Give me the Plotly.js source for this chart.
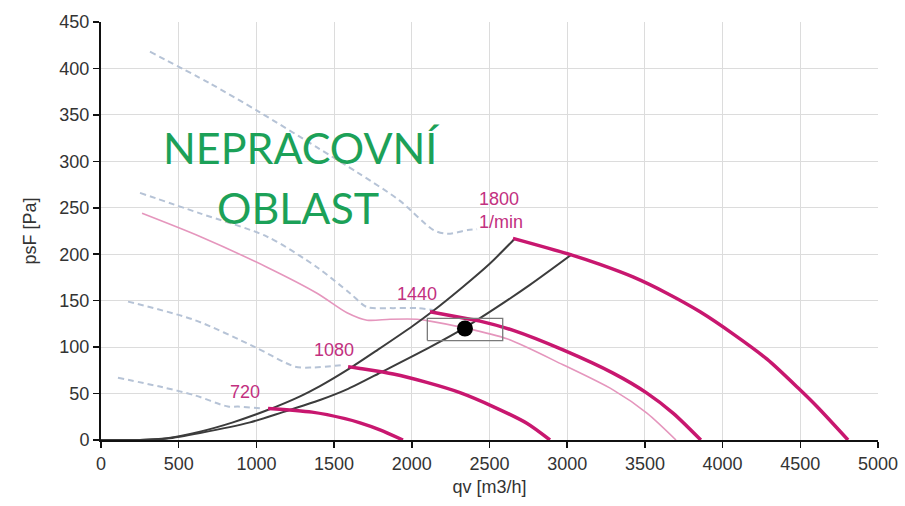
<!DOCTYPE html>
<html>
<head>
<meta charset="utf-8">
<script src="https://cdn.plot.ly/plotly-3.0.1.min.js"></script>
<style>
  html, body { margin: 0; padding: 0; background: #ffffff; }
  #chart { width: 905px; height: 506px; }
</style>
</head>
<body>
<div id="chart"></div>
<script>
// Fan characteristic: static pressure psF [Pa] against air flow qv [m3/h]

// Dashed limit curves (upper edge of the usable region per speed)
const limit1800Q = [315, 700, 1020, 1390, 1650, 1920, 2140, 2230, 2360, 2420];
const limit1800P = [418, 384, 353, 315, 288, 258, 226, 222, 226, 227];
const limit1440Q = [251, 637, 1068, 1390, 1602, 1712, 1860, 2033, 2137];
const limit1440P = [266, 244, 219, 186, 158, 143, 142, 142, 140];
const limit1080Q = [174, 605, 991, 1248, 1358, 1570];
const limit1080P = [149, 129, 100, 79, 78, 81];
const limit720Q = [109, 392, 605, 817, 882, 1036];
const limit720P = [67, 57, 48, 36, 36, 34];

// Thin pink curve (reduced-speed characteristic)
const thinQ = [264, 637, 1068, 1390, 1583, 1712, 1860, 2033, 2117, 2330, 2612, 2973, 3295, 3513, 3700];
const thinP = [244, 219, 186, 158, 137, 129, 130, 130, 128, 121, 109, 81, 54, 29, 0];

// System (duct) curves
const sysAQ = [0, 250, 425, 637, 849, 1068, 1281, 1409, 1590, 1780, 2008, 2130, 2330, 2503, 2664];
const sysAP = [0, 0, 2, 9, 19, 32, 47, 58, 76, 97, 123, 138, 165, 190, 217];
const sysBQ = [0, 250, 425, 637, 959, 1171, 1409, 1590, 1815, 2117, 2342, 2548, 2760, 3031];
const sysBP = [0, 0, 1.5, 7.5, 19, 30, 43, 55, 74, 100, 121, 143, 167, 200];

// Fan curves per speed [1/min]
const fan720Q = [1075, 1358, 1570, 1667, 1795, 1943];
const fan720P = [34, 30, 23, 18.5, 11, 0];
const fan1080Q = [1590, 1667, 1881, 2096, 2310, 2523, 2740, 2889];
const fan1080P = [79, 77, 71, 62, 51, 36, 18, 0];
const fan1440Q = [2117, 2375, 2439, 2653, 2973, 3295, 3513, 3681, 3860];
const fan1440P = [138, 130, 128, 118, 97, 72, 50.5, 29, 0];
const fan1800Q = [2651, 3031, 3211, 3423, 3641, 3855, 4069, 4286, 4498, 4607, 4807];
const fan1800P = [217, 199, 189, 175.5, 158, 138, 114, 87, 54, 36, 0];

// Operating point and its tolerance box
const dutyQ = [2342];
const dutyP = [120];
const boxQ = [2100, 2585, 2585, 2100, 2100];
const boxP = [107, 107, 131, 131, 107];

// Speed labels
const speedText = ['720', '1080', '1440', '1800<br>1/min'];
const speedQ = [817, 1358, 1892, 2420];
const speedP = [52, 97, 157, 247];

const tickFont = { family: 'Liberation Sans, Arial, sans-serif', size: 18, color: '#333333' };
const magenta = '#c8176f';
const dashCol = '#b6c3d6';

function line(x, y, color, width, dash) {
  return { type: 'scatter', mode: 'lines', x: x, y: y, hoverinfo: 'skip',
           line: { color: color, width: width, dash: dash || 'solid', shape: 'spline', smoothing: 0.8 } };
}

const traces = [
  line(limit1800Q, limit1800P, dashCol, 2, '6px,4px'),
  line(limit1440Q, limit1440P, dashCol, 2, '6px,4px'),
  line(limit1080Q, limit1080P, dashCol, 2, '6px,4px'),
  line(limit720Q, limit720P, dashCol, 2, '6px,4px'),
  line(thinQ, thinP, '#e596bd', 1.6),
  line(sysAQ, sysAP, '#3c3c3c', 2),
  line(sysBQ, sysBP, '#3c3c3c', 2),
  line(fan720Q, fan720P, magenta, 3.5),
  line(fan1080Q, fan1080P, magenta, 3.5),
  line(fan1440Q, fan1440P, magenta, 3.5),
  line(fan1800Q, fan1800P, magenta, 3.5),
  { type: 'scatter', mode: 'lines', x: boxQ, y: boxP, hoverinfo: 'skip',
    line: { color: '#7a7a7a', width: 1.3 } },
  { type: 'scatter', mode: 'markers', x: dutyQ, y: dutyP, hoverinfo: 'skip',
    marker: { color: '#000000', size: 16 } }
];

const annotations = speedText.map((t, i) => ({
  x: speedQ[i], y: speedP[i], xref: 'x', yref: 'y', text: t, showarrow: false,
  xanchor: 'left', align: 'left',
  font: { family: 'Liberation Sans, Arial, sans-serif', size: 18, color: '#c2307f' }
}));

annotations.push(
  { x: 1290, y: 315, xref: 'x', yref: 'y', text: 'NEPRACOVNÍ', showarrow: false,
    font: { family: 'Lato, sans-serif', size: 43, color: '#1ca158' } },
  { x: 1270, y: 250, xref: 'x', yref: 'y', text: 'OBLAST', showarrow: false,
    font: { family: 'Lato, sans-serif', size: 43, color: '#1ca158' } }
);

const layout = {
  width: 905, height: 506,
  margin: { l: 101, r: 27, t: 22, b: 66 },
  paper_bgcolor: '#ffffff', plot_bgcolor: '#ffffff',
  showlegend: false,
  xaxis: {
    range: [0, 5000], dtick: 500, tick0: 0,
    showgrid: true, gridcolor: '#dcdcdc', gridwidth: 1,
    zeroline: false, showline: true, linecolor: '#111111', linewidth: 2,
    ticks: 'outside', ticklen: 6, tickcolor: '#111111', tickwidth: 1.5,
    tickfont: tickFont,
    title: { text: 'qv [m3/h]', font: tickFont, standoff: 8 }
  },
  yaxis: {
    range: [0, 450], dtick: 50, tick0: 0,
    showgrid: true, gridcolor: '#dcdcdc', gridwidth: 1,
    zeroline: false, showline: true, linecolor: '#111111', linewidth: 2,
    ticks: 'outside', ticklen: 6, tickcolor: '#111111', tickwidth: 1.5,
    tickfont: tickFont,
    title: { text: 'psF [Pa]', font: tickFont, standoff: 18 }
  },
  annotations: annotations
};

Plotly.newPlot('chart', traces, layout, { staticPlot: true, displayModeBar: false });
</script>
</body>
</html>
